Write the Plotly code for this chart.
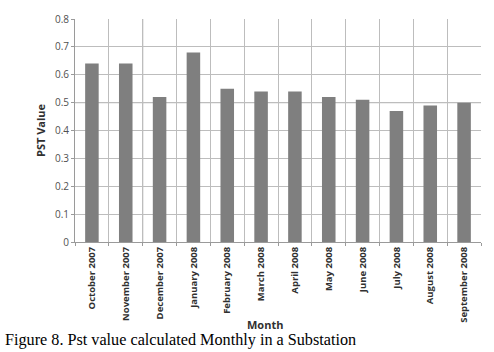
import plotly.graph_objects as go

months = ["October 2007", "November 2007", "December 2007", "January 2008",
          "February 2008", "March 2008", "April 2008", "May 2008",
          "June 2008", "July 2008", "August 2008", "September 2008"]
pst_values = [0.64, 0.64, 0.52, 0.68, 0.55, 0.54, 0.54, 0.52, 0.51, 0.47, 0.49, 0.50]
y_ticks = [0, 0.1, 0.2, 0.3, 0.4, 0.5, 0.6, 0.7, 0.8]

fig = go.Figure()
fig.add_trace(go.Bar(x=months, y=pst_values, marker=dict(color="#7f7f7f", line=dict(width=0)),
                     showlegend=False))

L, R, T, B = 75, 13, 11, 110
W, H = 494, 352

fig.update_layout(
    width=W, height=H,
    margin=dict(l=L, r=R, t=T, b=B),
    paper_bgcolor="white", plot_bgcolor="white",
    bargap=0.6,
    font=dict(family="Open Sans, Liberation Sans, sans-serif", color="#404040"),
    xaxis=dict(
        type="category", tickson="boundaries", showgrid=True, gridcolor="#bdbdbd", gridwidth=1,
        tickangle=-90, ticks="outside", ticklen=3, tickcolor="#9a9a9a",
        showline=True, linecolor="#9a9a9a", linewidth=1,
        tickfont=dict(size=9.5, color="#303030", family="Open Sans, sans-serif", weight="bold"),
        range=[-0.5, 11.5],
    ),
    yaxis=dict(
        range=[0, 0.8], tickvals=y_ticks, ticktext=[f"{v:g}" for v in y_ticks],
        showgrid=True, gridcolor="#bdbdbd", gridwidth=1,
        ticks="outside", ticklen=3, tickcolor="#9a9a9a",
        showline=True, linecolor="#9a9a9a", linewidth=1, zeroline=False,
        tickfont=dict(size=10, color="#505050"),
    ),
    shapes=[
        dict(type="line", xref="paper", yref="y", x0=0, x1=1, y0=0.5, y1=0.5,
             line=dict(color="#7a7a7a", width=1), layer="below"),
        dict(type="line", xref="x", yref="paper", x0=1.5, x1=1.5, y0=0, y1=1,
             line=dict(color="#7a7a7a", width=1), layer="below"),
        dict(type="line", xref="x", yref="paper", x0=2.5, x1=2.5, y0=0, y1=1,
             line=dict(color="#7a7a7a", width=1), layer="below"),
    ],
)

pw = W - L - R
ph = H - T - B


def px(x):
    return (x - L) / pw


def py(y):
    return (H - B - y) / ph


fig.add_annotation(text="<b>PST Value</b>", textangle=-90, x=px(40), y=py(126),
                   xref="paper", yref="paper", xanchor="center", yanchor="middle",
                   showarrow=False, font=dict(size=11, color="#303030"))
fig.add_annotation(text="<b>Month</b>", x=px(265), y=py(327),
                   xref="paper", yref="paper", xanchor="center", yanchor="middle",
                   showarrow=False, font=dict(size=11, color="#303030"))
fig.add_annotation(text="Figure 8. Pst value calculated Monthly in a Substation",
                   x=px(3), y=py(343), xref="paper", yref="paper",
                   xanchor="left", yanchor="middle", showarrow=False,
                   font=dict(size=16.2, color="#000000",
                             family="Liberation Serif, Times New Roman, serif"))

fig.write_html("out.html", config={"displayModeBar": False},
               post_script="document.body.style.margin='0';document.body.style.padding='0';")
